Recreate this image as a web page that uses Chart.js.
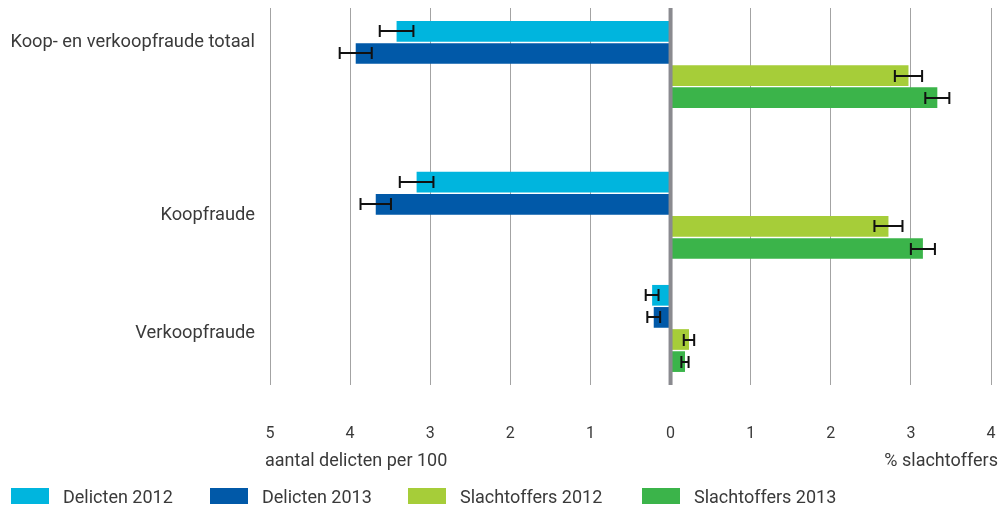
<!DOCTYPE html>
<html><head><meta charset="utf-8">
<script src="https://cdn.jsdelivr.net/npm/chart.js@4.4.1/dist/chart.umd.min.js"></script>
<style>
html,body{margin:0;padding:0;background:#fff;}
#wrap{position:relative;width:1007px;height:509px;font-family:Roboto, sans-serif;color:#3a3a3a;}
canvas{position:absolute;left:0;top:0;}
.t{position:absolute;font-size:18px;line-height:20px;white-space:nowrap;}
.li{position:absolute;top:486px;height:20px;display:flex;align-items:center;font-size:18px;white-space:nowrap;}
.sw{width:38px;height:16px;margin-right:14px;flex:none;}
</style></head>
<body><div id="wrap"><canvas id="c" width="1007" height="509"></canvas>
<div class="t" style="left:265px;top:450px">aantal delicten per 100</div>
<div class="t" style="right:9px;top:450px">% slachtoffers</div>
<div id="legend"></div>
</div>
<script>
// ---- data ----
const categories = ['Koop- en verkoopfraude totaal', 'Koopfraude', 'Verkoopfraude'];
const seriesNames = ['Delicten 2012', 'Delicten 2013', 'Slachtoffers 2012', 'Slachtoffers 2013'];
const delicten2012 = [3.42, 3.17, 0.23];
const delicten2013 = [3.93, 3.68, 0.21];
const slachtoffers2012 = [2.97, 2.72, 0.23];
const slachtoffers2013 = [3.33, 3.15, 0.18];
const delicten2012Err = [0.21, 0.21, 0.08];
const delicten2013Err = [0.20, 0.19, 0.08];
const slachtoffers2012Err = [0.17, 0.175, 0.065];
const slachtoffers2013Err = [0.15, 0.15, 0.045];
const xTickValues = [-5, -4, -3, -2, -1, 0, 1, 2, 3, 4];

// ---- layout (not data) ----
const colors = ['#00b5de', '#0159a8', '#a6cd39', '#3bb44a'];
const ROWS = 10;
const categoryRow = [1, 5, 8];
const legendX = [11, 210, 408, 642];

const labels = Array.from({length: ROWS}, () => '');
categories.forEach((c, i) => {
  labels[categoryRow[i]] = (i === 0) ? [c, '', ''] : (i === 2 ? ['', c] : c);
});

function toRows(values, sign) {
  const out = Array.from({length: ROWS}, () => null);
  values.forEach((v, i) => { out[categoryRow[i]] = sign * v; });
  return out;
}
const seriesValues = [delicten2012, delicten2013, slachtoffers2012, slachtoffers2013];
const seriesErr = [delicten2012Err, delicten2013Err, slachtoffers2012Err, slachtoffers2013Err];
const seriesSign = [-1, -1, 1, 1];

const datasets = seriesNames.map((name, i) => ({
  label: name,
  data: toRows(seriesValues[i], seriesSign[i]),
  backgroundColor: colors[i],
  borderWidth: 0,
  categoryPercentage: 2.345,
  barPercentage: 0.937
}));

const overlay = {
  id: 'overlay',
  afterDatasetsDraw(chart) {
    const ctx = chart.ctx;
    const xs = chart.scales.x;
    const area = chart.chartArea;
    const x0 = xs.getPixelForValue(0);
    ctx.save();
    ctx.fillStyle = '#8a8a8f';
    ctx.fillRect(x0 - 2, area.top, 4, area.bottom - area.top);
    ctx.strokeStyle = '#111';
    ctx.lineWidth = 2;
    seriesNames.forEach((n, i) => {
      const meta = chart.getDatasetMeta(i);
      categories.forEach((c, j) => {
        const el = meta.data[categoryRow[j]];
        const v = seriesSign[i] * seriesValues[i][j];
        const e = seriesErr[i][j];
        const xa = xs.getPixelForValue(v - e), xb = xs.getPixelForValue(v + e);
        const y = Math.round(el.y);
        ctx.beginPath();
        ctx.moveTo(xa, y); ctx.lineTo(xb, y);
        ctx.moveTo(xa, y - 6); ctx.lineTo(xa, y + 6);
        ctx.moveTo(xb, y - 6); ctx.lineTo(xb, y + 6);
        ctx.stroke();
      });
    });
    ctx.restore();
  }
};

Chart.defaults.font.family = 'Roboto, sans-serif';
Chart.defaults.color = '#3a3a3a';

new Chart(document.getElementById('c'), {
  type: 'bar',
  data: { labels, datasets },
  options: {
    indexAxis: 'y',
    responsive: false,
    animation: false,
    layout: { padding: { top: 8, right: 16, left: 0, bottom: 0 } },
    plugins: { legend: { display: false }, tooltip: { enabled: false } },
    scales: {
      x: {
        type: 'linear', min: -5, max: 4,
        afterBuildTicks(s) { s.ticks = xTickValues.map(v => ({ value: v })); },
        afterFit(s) { s.height = 124; s.paddingLeft = 0; s.paddingRight = 0; },
        grid: { color: '#a3a3a3', lineWidth: 1, drawTicks: false },
        border: { display: false },
        ticks: { padding: 39, maxRotation: 0, font: { size: 16 }, callback: v => String(Math.abs(v)) }
      },
      y: {
        type: 'category',
        afterFit(s) { s.width = 270; s.paddingTop = 0; s.paddingBottom = 0; },
        grid: { display: false, drawTicks: false },
        border: { display: false },
        ticks: {
          autoSkip: false, padding: 15,
          font: (c) => ({ size: 18.3, lineHeight: c.index === categoryRow[2] ? '9px' : 1.2 })
        }
      }
    }
  },
  plugins: [overlay]
});

const lg = document.getElementById('legend');
seriesNames.forEach((n, i) => {
  const d = document.createElement('div');
  d.className = 'li';
  d.style.left = legendX[i] + 'px';
  d.innerHTML = '<span class="sw" style="background:' + colors[i] + '"></span><span>' + n + '</span>';
  lg.appendChild(d);
});
</script>
</body></html>
